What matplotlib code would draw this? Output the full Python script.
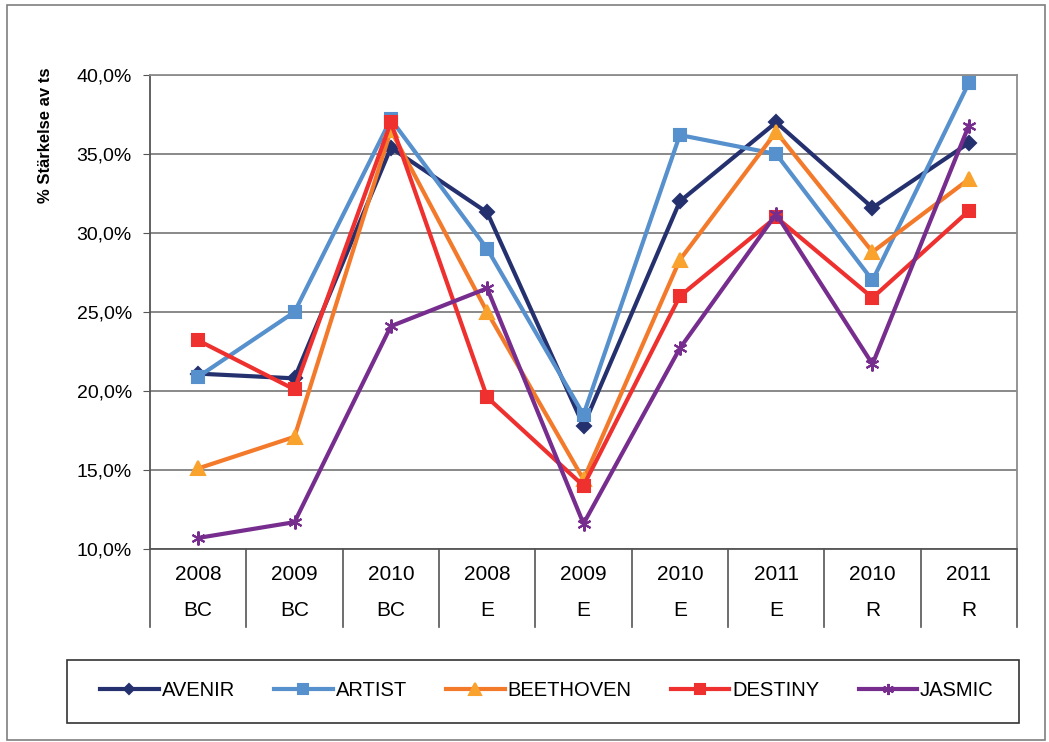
import matplotlib
matplotlib.use("Agg")
import matplotlib.pyplot as plt
import matplotlib.transforms as mtransforms
from matplotlib.patches import Rectangle
from matplotlib.ticker import FuncFormatter

plt.rcParams['font.family'] = ['Liberation Sans', 'DejaVu Sans']

years = ["2008", "2009", "2010", "2008", "2009", "2010", "2011", "2010", "2011"]
groups = ["BC", "BC", "BC", "E", "E", "E", "E", "R", "R"]

avenir = [21.1, 20.8, 35.4, 31.3, 17.8, 32.0, 37.0, 31.6, 35.7]
artist = [20.9, 25.0, 37.2, 29.0, 18.5, 36.2, 35.0, 27.0, 39.5]
beethoven = [15.1, 17.1, 36.5, 25.0, 14.4, 28.3, 36.4, 28.8, 33.4]
destiny = [23.2, 20.1, 37.0, 19.6, 14.0, 26.0, 31.0, 25.9, 31.4]
jasmic = [10.7, 11.7, 24.1, 26.5, 11.6, 22.7, 31.2, 21.7, 36.8]

series = [
    ("AVENIR", avenir, "#25316E", "#25316E", "D", 7),
    ("ARTIST", artist, "#5690CD", "#5690CD", "s", 9),
    ("BEETHOVEN", beethoven, "#F47A2B", "#F9A22E", "^", 10),
    ("DESTINY", destiny, "#EE302F", "#EE302F", "s", 9),
    ("JASMIC", jasmic, "#762D8E", "#762D8E", (6, 2, 0), 10),
]

W, H = 1049, 742
fig = plt.figure(figsize=(W / 100, H / 100), dpi=100)
# outer chart border
fig.patches.append(Rectangle((7/W, 1-740/H), 1038/W, 735/H,
                             transform=fig.transFigure, fill=False,
                             edgecolor="#7f7f7f", linewidth=1.2))
# legend border
fig.patches.append(Rectangle((67/W, 1-723/H), 952/W, 63/H,
                             transform=fig.transFigure, fill=False,
                             edgecolor="#333333", linewidth=1.2))

ax = fig.add_axes([150/W, 1-549/H, 867/W, 474/H])
x = list(range(len(years)))
for name, vals, lc, mc, mk, ms in series:
    ax.plot(x, vals, color=lc, linewidth=3, marker=mk, markersize=ms,
            markerfacecolor=mc, markeredgecolor=mc, markeredgewidth=1.5,
            label=name)

ax.set_xlim(-0.5, len(years) - 0.5)
ax.set_ylim(10, 40)
ax.set_yticks([10, 15, 20, 25, 30, 35, 40])
ax.yaxis.set_major_formatter(FuncFormatter(lambda v, p: f"{v:.1f}%".replace(".", ",")))
ax.tick_params(axis='y', labelsize=14, length=5, color="#555555", pad=8)
ax.set_xticks([])
ax.grid(axis='y', color="#808080", linewidth=1.3)
ax.set_axisbelow(True)
for s in ["top", "right"]:
    ax.spines[s].set_color("#8c8c8c")
    ax.spines[s].set_linewidth(1.3)
for s in ["left", "bottom"]:
    ax.spines[s].set_color("#555555")
    ax.spines[s].set_linewidth(1.3)

fig.text(46/W, 1-135/H, "% Stärkelse av ts", rotation=90, ha="center",
         va="center", fontsize=12, fontweight="bold")

# two-row category labels
trans = mtransforms.blended_transform_factory(ax.transData, ax.transAxes)
low = -(627 - 549) / 474
for i in range(len(years)):
    ax.text(i, -(575 - 549) / 474, years[i], transform=trans, ha="center",
            va="center", fontsize=15)
    ax.text(i, -(610 - 549) / 474, groups[i], transform=trans, ha="center",
            va="center", fontsize=15)
for b in range(len(years) + 1):
    ax.plot([b - 0.5, b - 0.5], [0, low], transform=trans, color="#555555",
            linewidth=1.2, clip_on=False)

fig.legend(loc="center", ncol=5, fontsize=14.5,
           bbox_to_anchor=(547/W, 1-691/H),
           frameon=False, handlelength=2.9, handletextpad=0.15,
           columnspacing=1.95, markerscale=0.8)

fig.savefig("out.png", dpi=100)
